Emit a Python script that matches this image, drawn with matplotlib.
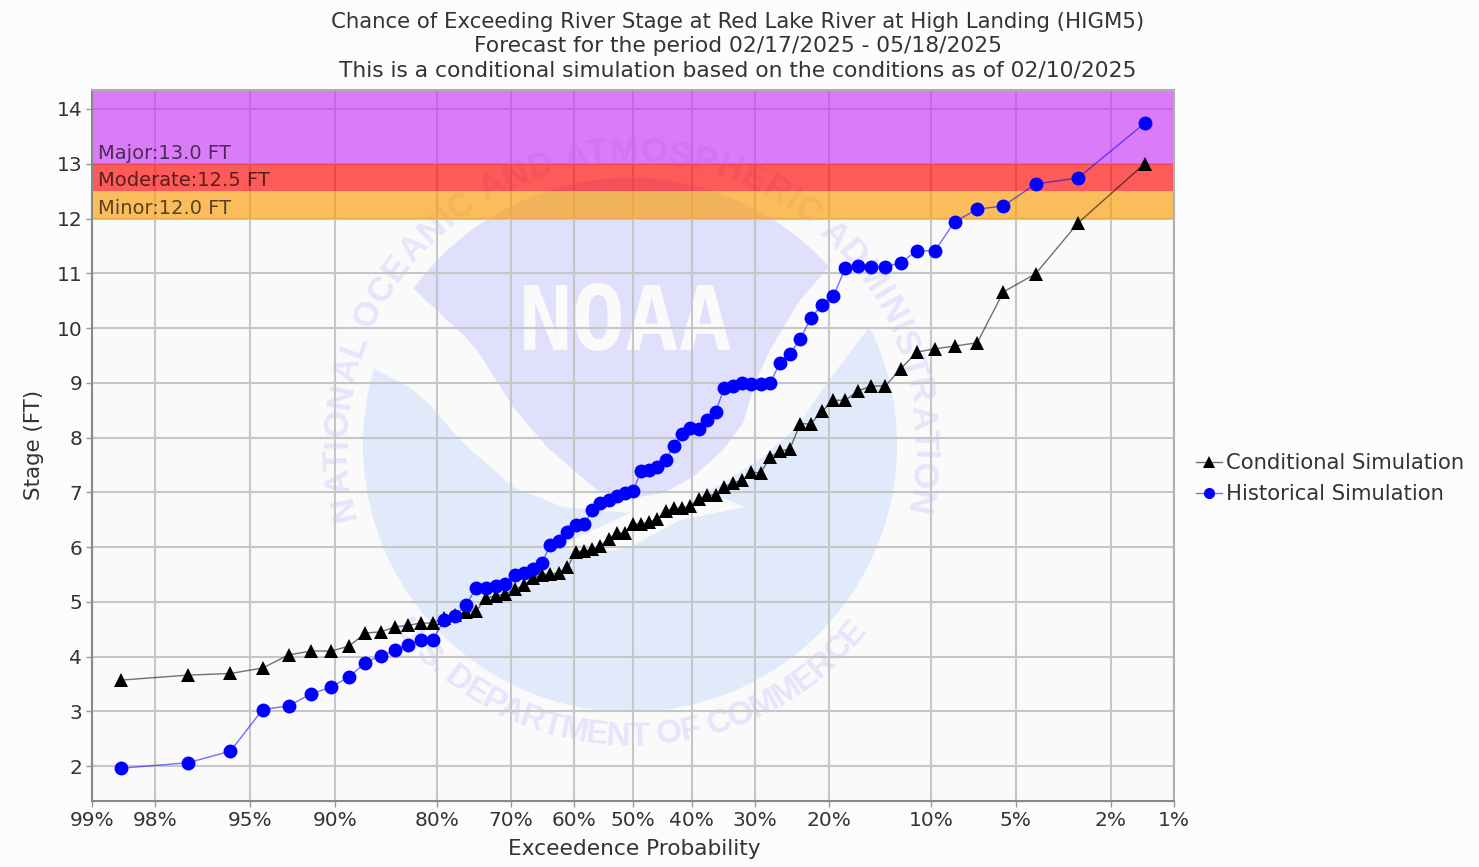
import numpy as np
import matplotlib
matplotlib.use('Agg')
import matplotlib.pyplot as plt
from matplotlib.font_manager import FontProperties
from matplotlib.patches import Polygon, Rectangle
from statistics import NormalDist

# exceedance probability (%) of each ranked member
prob = [98.61, 97.22, 95.83, 94.44, 93.06, 91.67, 90.28, 88.89, 87.5, 86.11, 84.72, 83.33,
        81.94, 80.56, 79.17, 77.78, 76.39, 75.0, 73.61, 72.22, 70.83, 69.44, 68.06, 66.67,
        65.28, 63.89, 62.5, 61.11, 59.72, 58.33, 56.94, 55.56, 54.17, 52.78, 51.39, 50.0,
        48.61, 47.22, 45.83, 44.44, 43.06, 41.67, 40.28, 38.89, 37.5, 36.11, 34.72, 33.33,
        31.94, 30.56, 29.17, 27.78, 26.39, 25.0, 23.61, 22.22, 20.83, 19.44, 18.06, 16.67,
        15.28, 13.89, 12.5, 11.11, 9.72, 8.33, 6.94, 5.56, 4.17, 2.78, 1.39]
conditional = [3.57, 3.66, 3.69, 3.79, 4.03, 4.10, 4.10, 4.19, 4.43, 4.45, 4.54, 4.57,
               4.61, 4.61, 4.70, 4.76, 4.81, 4.83, 5.07, 5.11, 5.14, 5.23, 5.30, 5.43,
               5.49, 5.51, 5.52, 5.63, 5.91, 5.93, 5.96, 6.02, 6.15, 6.26, 6.26, 6.42,
               6.42, 6.46, 6.51, 6.66, 6.71, 6.71, 6.75, 6.88, 6.95, 6.95, 7.10, 7.17,
               7.22, 7.37, 7.35, 7.64, 7.75, 7.79, 8.25, 8.25, 8.48, 8.68, 8.68, 8.85,
               8.94, 8.94, 9.25, 9.56, 9.62, 9.67, 9.73, 10.66, 10.99, 11.92, 13.0]
historical = [1.96, 2.06, 2.27, 3.03, 3.10, 3.32, 3.44, 3.63, 3.89, 4.01, 4.11, 4.21,
              4.30, 4.30, 4.66, 4.74, 4.94, 5.25, 5.26, 5.29, 5.32, 5.48, 5.52, 5.60,
              5.70, 6.04, 6.11, 6.27, 6.40, 6.42, 6.67, 6.80, 6.86, 6.94, 6.99, 7.02,
              7.39, 7.40, 7.46, 7.59, 7.84, 8.06, 8.17, 8.16, 8.32, 8.47, 8.91, 8.94,
              8.99, 8.98, 8.98, 8.99, 9.36, 9.53, 9.80, 10.18, 10.42, 10.58, 11.10, 11.13,
              11.12, 11.12, 11.19, 11.41, 11.41, 11.94, 12.17, 12.23, 12.63, 12.74, 13.74]

prob_ticks = [99, 98, 95, 90, 80, 70, 60, 50, 40, 30, 20, 10, 5, 2, 1]
stage_ticks = list(range(2, 15))

flood_names = ['Minor', 'Moderate', 'Major']
flood_stages = [12.0, 12.5, 13.0]
flood_colors = ['#fd9b07', '#ff0404', '#c937f7']

title_lines = ['Chance of Exceeding River Stage at Red Lake River at High Landing (HIGM5)',
               'Forecast for the period 02/17/2025 - 05/18/2025',
               'This is a conditional simulation based on the conditions as of 02/10/2025']
title_sizes = [15.35, 15.65, 15.65]

# NOAA watermark outline, in image pixels
logo_center = (630, 445)
logo_radius = 267
lavender_edge = [(828, 268), (800, 300), (770, 350), (755, 383), (743, 423), (723, 450), (693, 477),
                 (663, 493), (633, 498), (597, 490), (577, 473), (547, 447), (513, 407), (477, 350),
                 (464, 336), (413, 288)]
blue_edge = [(375, 369), (409, 387), (430, 405), (463, 443), (513, 487), (563, 507), (630, 513),
             (600, 527), (557, 547), (600, 553), (630, 547), (680, 520), (745, 507), (723, 498),
             (700, 495), (723, 483), (763, 457), (797, 427), (827, 383), (870, 326)]

W, H = 1479, 867
fig = plt.figure(figsize=(W / 100, H / 100), dpi=100, facecolor='#fcfcfc')
left, right, top, bottom = 92, 1174, 90, 801

# watermark sits in its own axes under the chart
bg = fig.add_axes([0, 0, 1, 1], zorder=0)
bg.set_xlim(0, W)
bg.set_ylim(H, 0)
bg.axis('off')
bg.add_patch(Rectangle((left, top), right - left, bottom - top, color='#fafafa', lw=0))


def arc(a, b):
    t = np.radians(np.linspace(a, b, 120))
    return list(zip(logo_center[0] + logo_radius * np.cos(t), logo_center[1] + logo_radius * np.sin(t)))


bg.add_patch(Polygon(arc(-144.1, -41.8) + lavender_edge, color='#e0e0fd', lw=0))
bg.add_patch(Polygon(arc(-26.4, 196.6) + blue_edge, color='#e0eafa', lw=0))
bg.text(626, 325, 'NOAA', family='DejaVu Sans Mono', weight='bold', fontsize=64,
        color='#fafafa', ha='center', va='center')


def ring_text(s, start, end, radius, size):
    fp = FontProperties(family='Liberation Sans', weight='bold', size=size)
    rend = fig.canvas.get_renderer()
    widths = lambda txt: rend.get_text_width_height_descent(txt, fp, False)[0]
    total = widths(s)
    for i, ch in enumerate(s):
        pos = (widths(s[:i + 1]) - widths(ch) / 2) / total
        th = start + (end - start) * pos
        x = logo_center[0] + radius * np.cos(np.radians(th))
        y = logo_center[1] + radius * np.sin(np.radians(th))
        rot = -(th + 90) if end > start else 90 - th
        bg.text(x, y, ch, fontproperties=fp, color='#e5e5fc', rotation=rot,
                ha='center', va='center', rotation_mode='anchor')


ring_text('NATIONAL OCEANIC AND ATMOSPHERIC ADMINISTRATION', -195, 14, 293, 25)
ring_text('U.S. DEPARTMENT OF COMMERCE', 142, 38, 292, 24)

ax = fig.add_axes([left / W, 1 - bottom / H, (right - left) / W, (bottom - top) / H], zorder=1)
ax.patch.set_visible(False)


# normal probability scale, axis runs from 99% down to 1%
def to_z(p):
    p = np.clip(np.asarray(p, dtype=float), 1e-6, 100 - 1e-6)
    return np.array([NormalDist().inv_cdf(v / 100) for v in p.ravel()]).reshape(p.shape)


def from_z(z):
    z = np.asarray(z, dtype=float)
    return np.array([100 * NormalDist().cdf(v) for v in z.ravel()]).reshape(z.shape)


ax.set_xscale('function', functions=(to_z, from_z))
ax.set_xticks(prob_ticks)
ax.set_xticklabels([f'{p}%' for p in prob_ticks])
ax.minorticks_off()
ax.set_yticks(stage_ticks)
ax.set_xlim(99, 1)
ax.set_ylim(1.361, 14.347)
ax.grid(True, color='#c6c6c6', lw=1.5, zorder=1)
ax.set_axisbelow(True)
ax.tick_params(labelsize=14.5, length=4, width=1, color='#999999', labelcolor='#333333', pad=3)
for name, sp in ax.spines.items():
    sp.set_color('#b0b0b0')
    sp.set_linewidth(1.5)
ax.spines['left'].set_color('#888888')
ax.spines['bottom'].set_color('#888888')

# flood bands
band_tops = flood_stages[1:] + [ax.get_ylim()[1]]
for name, low, high, col in zip(flood_names, flood_stages, band_tops, flood_colors):
    ax.axhspan(low, high, color=col, alpha=0.65, lw=0, zorder=1.5)
    ax.annotate(f'{name}:{low:.1f} FT', xy=(0, low), xycoords=('axes fraction', 'data'),
                xytext=(6, 1), textcoords='offset pixels', fontsize=14, color='#000000',
                alpha=0.65, va='bottom', ha='left', zorder=2)

ax.plot(prob, conditional, color=(0, 0, 0, 0.55), lw=1.0, marker='^', ms=10.5,
        mfc='black', mec='black', mew=0, label='Conditional Simulation', zorder=3)
ax.plot(prob, historical, color=(0, 0, 1, 0.55), lw=1.0, marker='o', ms=10,
        mfc='#0000ff', mec='#0000ff', mew=0, label='Historical Simulation', zorder=4)

fig.text(634 / W, 1 - 849 / H, 'Exceedence Probability', fontsize=15.55, color='#333333', ha='center', va='center')
fig.text(34 / W, 1 - 445 / H, 'Stage (FT)', rotation=90, fontsize=15.4, color='#333333', ha='center', va='center')

for line, size, y in zip(title_lines, title_sizes, [22, 46, 70]):
    fig.text(738 / W, 1 - y / H, line, fontsize=size, color='#333333', ha='center', va='center')

leg = ax.legend(loc='center left', bbox_to_anchor=(1192 / W, 1 - 478.5 / H), bbox_transform=fig.transFigure,
                frameon=False, fontsize=15.25, handlelength=1.2, handletextpad=0.2, labelspacing=0.52,
                markerscale=0.8, borderpad=0.2, borderaxespad=0)
for t in leg.get_texts():
    t.set_color('#333333')

fig.savefig('out.png', dpi=100, facecolor=fig.get_facecolor())
